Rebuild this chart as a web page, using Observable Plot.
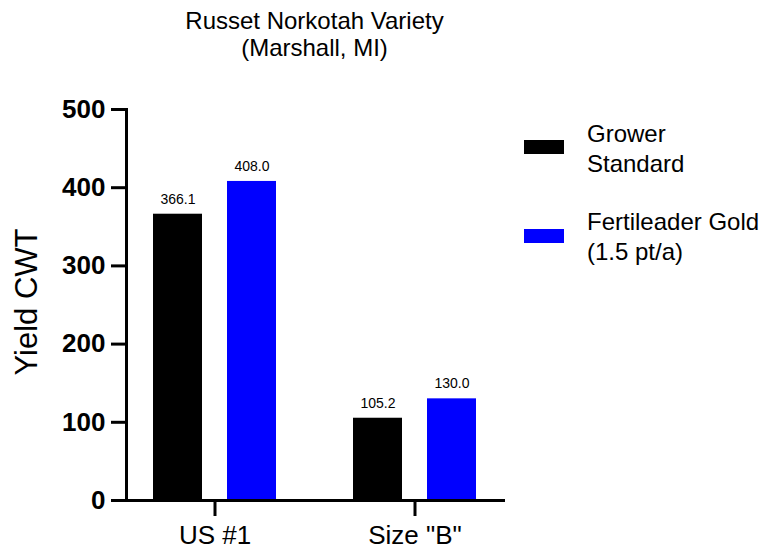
<!DOCTYPE html>
<html>
<head>
<meta charset="utf-8">
<script src="https://cdn.jsdelivr.net/npm/d3@7"></script>
<script src="https://cdn.jsdelivr.net/npm/@observablehq/plot@0.6"></script>
<style>
  body { margin: 0; background: #fff; }
  #wrap { position: relative; width: 771px; height: 551px; font-family: Arial, "Liberation Sans", sans-serif; color: #000; }
  #title { position: absolute; left: 0; top: 7px; width: 629px; text-align: center; font-size: 24px; line-height: 27px; }
  #ylabel { position: absolute; left: 26px; top: 302px; transform: translate(-50%, -50%) rotate(-90deg); font-size: 31px; line-height: 31px; white-space: nowrap; }
  .sw { position: absolute; left: 0; width: 40px; height: 14px; }
  .lt { position: absolute; left: 63px; font-size: 24px; line-height: 30px; white-space: nowrap; }
  #chart { position: absolute; left: 0; top: 0; }
</style>
</head>
<body>
<div id="wrap">
  <div id="chart"></div>
  <div id="title"></div>
  <div id="ylabel"></div>
  <div id="legend"></div>
</div>
<script>
const titleLines = ["Russet Norkotah Variety", "(Marshall, MI)"];
const yLabel = "Yield CWT";
const categories = ["US #1", "Size \"B\""];
const series = ["Grower Standard", "Fertileader Gold (1.5 pt/a)"];
const legendLines = [["Grower", "Standard"], ["Fertileader Gold", "(1.5 pt/a)"]];
const growerValues = [366.1, 105.2];
const fertileaderValues = [408.0, 130.0];
const colors = ["#000000", "#0000ff"];
const yTicks = [0, 100, 200, 300, 400, 500];

const data = [];
categories.forEach((c, i) => {
  data.push({cat: c, series: series[0], value: growerValues[i]});
  data.push({cat: c, series: series[1], value: fertileaderValues[i]});
});

const plot = Plot.plot({
  width: 771,
  height: 551,
  marginLeft: 126,
  marginRight: 268,
  marginTop: 109,
  marginBottom: 51,
  style: {fontFamily: "Arial, 'Liberation Sans', sans-serif", color: "#000", background: "#fff"},
  fx: {domain: categories, paddingInner: 0.115, paddingOuter: 0, label: null},
  x: {domain: series, paddingInner: 1/3, paddingOuter: 0.347, axis: null},
  y: {domain: [0, 500], label: null},
  color: {domain: series, range: colors},
  marks: [
    Plot.barY(data, {fx: "cat", x: "series", y: "value", fill: "series"}),
    Plot.text(data, {fx: "cat", x: "series", y: "value", text: d => d.value.toFixed(1), dy: -15, fontSize: 14, fill: "#000"}),
    Plot.axisY({ticks: yTicks, tickSize: 15, tickPadding: 6, strokeWidth: 3, fontSize: 26, fontWeight: "bold", label: null, tickFormat: d => String(d)}),
    Plot.axisFx({anchor: "bottom", tickSize: 16, tickPadding: 9, strokeWidth: 3, fontSize: 26, label: null}),
    Plot.frame({anchor: "left", facet: "super", strokeWidth: 3, strokeLinecap: "square"}),
    Plot.frame({anchor: "bottom", facet: "super", strokeWidth: 3, strokeLinecap: "square"})
  ]
});
document.getElementById("chart").appendChild(plot);

document.getElementById("title").innerHTML = titleLines.map(t => `<div>${t}</div>`).join("");
document.getElementById("ylabel").textContent = yLabel;

const legendTops = [140, 229];
const legendTextTops = [119, 207];
const legend = document.getElementById("legend");
series.forEach((s, i) => {
  const sw = document.createElement("div");
  sw.className = "sw";
  sw.style.left = "524px";
  sw.style.top = legendTops[i] + "px";
  sw.style.background = colors[i];
  legend.appendChild(sw);
  const lt = document.createElement("div");
  lt.className = "lt";
  lt.style.left = "587px";
  lt.style.top = legendTextTops[i] + "px";
  lt.innerHTML = legendLines[i].map(t => `<div>${t}</div>`).join("");
  legend.appendChild(lt);
});
</script>
</body>
</html>
